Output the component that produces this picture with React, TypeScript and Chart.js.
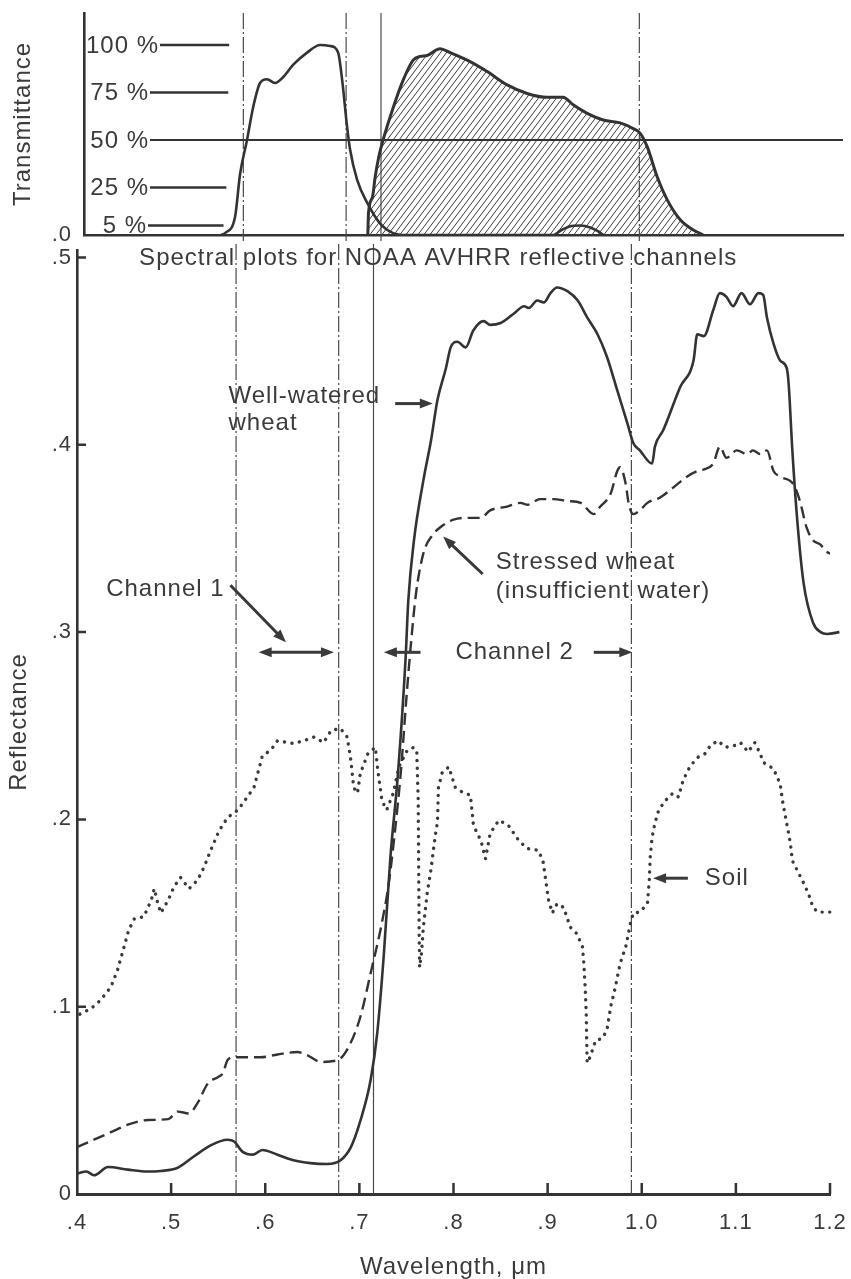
import React, { useEffect, useRef } from "react";
import { Chart, registerables } from "chart.js";

Chart.register(...registerables);

const FONT_FAMILY = '"Liberation Sans", Arial, Helvetica, sans-serif';
const INK = "#333333";
const TEXT_COLOR = "#3b3b3b";

// ---------------- Transmittance panel (top) ----------------
const ch1Wavelength = [0.5454, 0.5496, 0.5602, 0.5655, 0.5729, 0.5793, 0.5867, 0.5941, 0.6026, 0.6111, 0.6217, 0.6366, 0.6504, 0.661, 0.6695, 0.6737, 0.679, 0.6822, 0.6897, 0.7003, 0.7141, 0.7279, 0.7406, 0.898, 0.906, 0.915, 0.926, 0.937, 0.945, 0.951];
const ch1Transmittance = [0, 1, 9.5, 32, 50, 67, 80, 82, 80, 83, 89.5, 96, 100, 99.5, 96, 82, 57, 45, 29, 17, 6, 1, 0, 0, 2.5, 4.5, 5, 4, 2, 0];

const ch2Wavelength = [0.701, 0.7018, 0.706, 0.7088, 0.713, 0.7172, 0.7279, 0.7385, 0.7491, 0.7565, 0.7639, 0.7777, 0.7883, 0.8064, 0.8276, 0.8488, 0.87, 0.8912, 0.9082, 0.9188, 0.9337, 0.9507, 0.9687, 0.9825, 0.9899, 0.9973, 1.008, 1.0186, 1.0324, 1.0462, 1.0568];
const ch2Transmittance = [0, 12, 20, 30.5, 42, 50, 67, 81.5, 92, 94, 94.5, 98, 96, 92, 86, 79, 74.5, 72.5, 72.5, 68.5, 64, 60.5, 59, 56, 53.5, 46.5, 30.5, 18.5, 8, 2.6, 0];

const transLevels = [100, 75, 50, 25, 5];
const transLevelLabels = ["100 %", "75 %", "50 %", "25 %", "5 %"];
const transLineStart = [0.4806, 0.47, 0.47, 0.47, 0.4679];
const transLineEnd = [0.554, 0.553, 1.205, 0.551, 0.548];
const topTickValues = [0];
const topTickLabels = [".0"];
const topWavelengthMin = 0.4;
const topWavelengthMax = 1.205;
const topTransMax = 116.84;

// ---------------- Reflectance panel (bottom) ----------------
const wellWavelength = [0.4, 0.41, 0.418, 0.433, 0.454, 0.475, 0.489, 0.507, 0.524, 0.542, 0.56, 0.567, 0.576, 0.587, 0.597, 0.613, 0.63, 0.648, 0.666, 0.68, 0.691, 0.701, 0.712, 0.719, 0.726, 0.733, 0.741, 0.749, 0.752, 0.758, 0.768, 0.776, 0.783, 0.792, 0.797, 0.804, 0.813, 0.821, 0.832, 0.839, 0.85, 0.864, 0.875, 0.88, 0.889, 0.896, 0.903, 0.91, 0.921, 0.932, 0.942, 0.953, 0.963, 0.974, 0.985, 0.991, 0.998, 1.011, 1.014, 1.023, 1.041, 1.055, 1.059, 1.066, 1.076, 1.083, 1.09, 1.097, 1.106, 1.115, 1.124, 1.129, 1.133, 1.14, 1.147, 1.154, 1.156, 1.16, 1.165, 1.172, 1.182, 1.19, 1.197, 1.21];
const wellReflectance = [0.011, 0.012, 0.01, 0.0144, 0.013, 0.012, 0.0123, 0.014, 0.02, 0.026, 0.029, 0.028, 0.0225, 0.021, 0.0235, 0.021, 0.018, 0.0165, 0.016, 0.018, 0.025, 0.039, 0.061, 0.086, 0.128, 0.18, 0.2245, 0.285, 0.317, 0.349, 0.381, 0.402, 0.424, 0.441, 0.452, 0.455, 0.452, 0.461, 0.466, 0.464, 0.465, 0.47, 0.474, 0.473, 0.477, 0.476, 0.481, 0.484, 0.482, 0.477, 0.468, 0.459, 0.447, 0.429, 0.411, 0.401, 0.397, 0.39, 0.399, 0.408, 0.431, 0.445, 0.459, 0.458, 0.472, 0.481, 0.479, 0.474, 0.481, 0.475, 0.481, 0.48, 0.468, 0.454, 0.445, 0.441, 0.433, 0.397, 0.361, 0.326, 0.305, 0.3, 0.299, 0.3];

const stressedWavelength = [0.4, 0.418, 0.436, 0.454, 0.475, 0.497, 0.507, 0.519, 0.528, 0.539, 0.55, 0.555, 0.56, 0.567, 0.595, 0.613, 0.634, 0.645, 0.659, 0.677, 0.688, 0.701, 0.712, 0.723, 0.731, 0.737, 0.744, 0.75, 0.755, 0.76, 0.768, 0.778, 0.786, 0.8, 0.815, 0.829, 0.839, 0.857, 0.871, 0.879, 0.892, 0.906, 0.921, 0.935, 0.949, 0.956, 0.967, 0.974, 0.977, 0.983, 0.986, 0.991, 0.998, 1.006, 1.02, 1.033, 1.048, 1.059, 1.067, 1.076, 1.083, 1.09, 1.101, 1.112, 1.118, 1.126, 1.133, 1.14, 1.147, 1.161, 1.168, 1.175, 1.182, 1.189, 1.2, 1.21];
const stressedReflectance = [0.025, 0.029, 0.033, 0.037, 0.0395, 0.04, 0.044, 0.043, 0.0485, 0.059, 0.0625, 0.0645, 0.0715, 0.073, 0.073, 0.0745, 0.0758, 0.074, 0.0705, 0.0715, 0.078, 0.0945, 0.118, 0.1425, 0.165, 0.19, 0.225, 0.265, 0.295, 0.32, 0.342, 0.352, 0.356, 0.36, 0.361, 0.361, 0.365, 0.367, 0.369, 0.368, 0.371, 0.371, 0.37, 0.369, 0.363, 0.367, 0.374, 0.386, 0.388, 0.379, 0.369, 0.363, 0.365, 0.369, 0.372, 0.377, 0.383, 0.386, 0.387, 0.39, 0.399, 0.393, 0.397, 0.395, 0.397, 0.395, 0.397, 0.386, 0.383, 0.379, 0.37, 0.356, 0.349, 0.347, 0.342, 0.347];

const soilWavelength = [0.403, 0.415, 0.425, 0.436, 0.443, 0.45, 0.455, 0.461, 0.471, 0.479, 0.482, 0.486, 0.489, 0.497, 0.503, 0.51, 0.519, 0.528, 0.535, 0.542, 0.551, 0.56, 0.571, 0.581, 0.588, 0.592, 0.597, 0.606, 0.613, 0.624, 0.63, 0.641, 0.652, 0.662, 0.67, 0.68, 0.687, 0.691, 0.694, 0.698, 0.701, 0.709, 0.717, 0.72, 0.724, 0.729, 0.736, 0.742, 0.751, 0.758, 0.761, 0.7625, 0.763, 0.7635, 0.764, 0.766, 0.768, 0.772, 0.776, 0.779, 0.781, 0.783, 0.784, 0.788, 0.795, 0.802, 0.811, 0.818, 0.821, 0.825, 0.829, 0.834, 0.839, 0.848, 0.858, 0.869, 0.878, 0.89, 0.895, 0.898, 0.901, 0.905, 0.91, 0.917, 0.924, 0.931, 0.937, 0.9385, 0.94, 0.941, 0.9415, 0.942, 0.945, 0.951, 0.958, 0.963, 0.967, 0.972, 0.977, 0.983, 0.988, 0.991, 0.998, 1.006, 1.008, 1.009, 1.011, 1.014, 1.018, 1.025, 1.033, 1.039, 1.044, 1.051, 1.059, 1.067, 1.073, 1.081, 1.089, 1.099, 1.105, 1.113, 1.12, 1.126, 1.129, 1.14, 1.147, 1.15, 1.154, 1.158, 1.16, 1.165, 1.172, 1.177, 1.182, 1.187, 1.203];
const soilReflectance = [0.096, 0.099, 0.1035, 0.1105, 0.1195, 0.132, 0.141, 0.147, 0.148, 0.157, 0.163, 0.155, 0.15, 0.157, 0.164, 0.169, 0.163, 0.1675, 0.1745, 0.1835, 0.194, 0.201, 0.205, 0.212, 0.217, 0.2245, 0.234, 0.237, 0.242, 0.241, 0.2405, 0.242, 0.244, 0.241, 0.2475, 0.2485, 0.244, 0.2315, 0.217, 0.214, 0.2245, 0.235, 0.2385, 0.2245, 0.21, 0.205, 0.214, 0.228, 0.237, 0.2385, 0.236, 0.21, 0.175, 0.14, 0.121, 0.1285, 0.1425, 0.1605, 0.173, 0.185, 0.1925, 0.1985, 0.217, 0.225, 0.228, 0.217, 0.214, 0.213, 0.198, 0.1925, 0.189, 0.179, 0.1925, 0.1995, 0.197, 0.189, 0.1845, 0.1835, 0.178, 0.1675, 0.157, 0.15, 0.155, 0.153, 0.1425, 0.139, 0.132, 0.123, 0.109, 0.0966, 0.082, 0.07, 0.073, 0.082, 0.083, 0.0875, 0.1, 0.1105, 0.123, 0.132, 0.1445, 0.15, 0.1505, 0.155, 0.1675, 0.18, 0.1905, 0.198, 0.205, 0.21, 0.214, 0.212, 0.221, 0.228, 0.233, 0.235, 0.2395, 0.242, 0.2385, 0.2395, 0.241, 0.236, 0.241, 0.235, 0.2305, 0.227, 0.219, 0.2085, 0.198, 0.187, 0.178, 0.173, 0.166, 0.1605, 0.153, 0.1505, 0.1505];

const xTickValues = [0.4, 0.5, 0.6, 0.7, 0.8, 0.9, 1.0, 1.1, 1.2];
const xTickLabels = [".4", ".5", ".6", ".7", ".8", ".9", "1.0", "1.1", "1.2"];
const yTickValues = [0, 0.1, 0.2, 0.3, 0.4, 0.5];
const yTickLabels = ["0", ".1", ".2", ".3", ".4", ".5"];
const wavelengthMin = 0.4;
const wavelengthMax = 1.2;
const reflectanceMin = 0;
const reflectanceMax = 0.504;

const channelEdges = [0.569, 0.678, 0.715, 0.989];

const chartTitle = "Spectral plots for NOAA AVHRR reflective channels";
const chartTitleAt = [0.466, 0.4995];
const xAxisTitle = "Wavelength, \u03bcm";
const yAxisTitle = "Reflectance";
const topAxisTitle = "Transmittance";

const noteTexts = ["Well-watered", "wheat", "Channel 1", "Channel 2", "Stressed wheat", "(insufficient water)", "Soil"];
const noteWavelength = [0.561, 0.561, 0.431, 0.802, 0.845, 0.845, 1.067];
const noteReflectance = [0.4258, 0.4114, 0.323, 0.2892, 0.337, 0.322, 0.1686];

const arrowFromWavelength = [0.738, 0.563, 0.593, 0.765, 0.949, 0.831, 1.049];
const arrowFromReflectance = [0.422, 0.325, 0.2892, 0.2892, 0.2892, 0.331, 0.1686];
const arrowToWavelength = [0.778, 0.622, 0.673, 0.726, 0.99, 0.789, 1.012];
const arrowToReflectance = [0.422, 0.2946, 0.2892, 0.2892, 0.2892, 0.351, 0.1686];
const arrowDoubleHeaded = [false, false, true, false, false, false, false];

// styles (kept apart from data)
const edgeDashed = [true, true, false, true];

type XY = { x: number; y: number };
const pairs = (xs: number[], ys: number[]): XY[] => xs.map((x, i) => ({ x, y: ys[i] }));

const labelFor = (values: number[], labels: string[]) => (v: any) => {
  const i = values.findIndex((t) => Math.abs(t - Number(v)) < 1e-9);
  return i >= 0 ? labels[i] : "";
};

const zeroPadding = (s: any) => {
  s.paddingLeft = 0;
  s.paddingRight = 0;
  s.paddingTop = 0;
  s.paddingBottom = 0;
};

function drawArrow(ctx: CanvasRenderingContext2D, x1: number, y1: number, x2: number, y2: number, both: boolean) {
  const a = Math.atan2(y2 - y1, x2 - x1);
  const head = 13;
  const half = 5;
  const c = Math.cos(a);
  const s = Math.sin(a);
  const sx = both ? x1 + c * head * 0.7 : x1;
  const sy = both ? y1 + s * head * 0.7 : y1;
  const ex = x2 - c * head * 0.7;
  const ey = y2 - s * head * 0.7;
  ctx.beginPath();
  ctx.moveTo(sx, sy);
  ctx.lineTo(ex, ey);
  ctx.lineWidth = 3;
  ctx.stroke();
  const tip = (tx: number, ty: number, cc: number, ss: number) => {
    ctx.beginPath();
    ctx.moveTo(tx, ty);
    ctx.lineTo(tx - cc * head - ss * half, ty - ss * head + cc * half);
    ctx.lineTo(tx - cc * head + ss * half, ty - ss * head - cc * half);
    ctx.closePath();
    ctx.fill();
  };
  tip(x2, y2, c, s);
  if (both) tip(x1, y1, -c, -s);
}

function drawEdges(chart: any, top: number, bottom: number) {
  const { ctx, scales } = chart;
  ctx.save();
  ctx.strokeStyle = "#4a4a4a";
  ctx.lineWidth = 1.2;
  channelEdges.forEach((w, i) => {
    const px = scales.x.getPixelForValue(w);
    ctx.setLineDash(edgeDashed[i] ? [16, 3, 2, 3] : []);
    ctx.beginPath();
    ctx.moveTo(px, top);
    ctx.lineTo(px, bottom);
    ctx.stroke();
  });
  ctx.restore();
}

function makeHatch(): CanvasPattern | string {
  const w = 6;
  const h = 8;
  const c = document.createElement("canvas");
  c.width = w;
  c.height = h;
  const g = c.getContext("2d");
  if (!g) return "rgba(0,0,0,0.2)";
  g.strokeStyle = "#3c3c3c";
  g.lineWidth = 1;
  g.beginPath();
  for (const off of [-w, 0, w]) {
    g.moveTo(off - w, 2 * h);
    g.lineTo(off + 2 * w, -h);
  }
  g.stroke();
  return g.createPattern(c, "repeat") || "rgba(0,0,0,0.2)";
}

const spacingPlugin = {
  id: "spacing",
  beforeDraw(chart: any) {
    try {
      (chart.ctx as any).letterSpacing = "1px";
    } catch (e) {
      /* ignore */
    }
  },
};

export default function App() {
  const topRef = useRef<HTMLCanvasElement | null>(null);
  const bottomRef = useRef<HTMLCanvasElement | null>(null);

  useEffect(() => {
    if (!topRef.current || !bottomRef.current) return;

    const bottomDecor = {
      id: "bottomDecor",
      beforeDatasetsDraw(chart: any) {
        drawEdges(chart, chart.chartArea.top - 6, chart.chartArea.bottom);
      },
      afterDraw(chart: any) {
        const { ctx, chartArea, scales } = chart;
        const x = scales.x;
        const y = scales.y;
        ctx.save();
        ctx.setLineDash([]);
        ctx.strokeStyle = INK;
        ctx.fillStyle = INK;
        ctx.lineWidth = 2.5;
        ctx.beginPath();
        xTickValues.forEach((v) => {
          if (v <= wavelengthMin + 1e-9) return;
          const px = x.getPixelForValue(v);
          ctx.moveTo(px, chartArea.bottom);
          ctx.lineTo(px, chartArea.bottom - 11);
        });
        yTickValues.forEach((v) => {
          if (v <= reflectanceMin + 1e-9) return;
          const py = y.getPixelForValue(v);
          ctx.moveTo(chartArea.left, py);
          ctx.lineTo(chartArea.left + 9, py);
        });
        ctx.stroke();

        ctx.strokeStyle = "#3a3a3a";
        ctx.fillStyle = "#3a3a3a";
        arrowFromWavelength.forEach((w, i) => {
          drawArrow(
            ctx,
            x.getPixelForValue(w),
            y.getPixelForValue(arrowFromReflectance[i]),
            x.getPixelForValue(arrowToWavelength[i]),
            y.getPixelForValue(arrowToReflectance[i]),
            arrowDoubleHeaded[i]
          );
        });

        ctx.fillStyle = TEXT_COLOR;
        ctx.font = `24px ${FONT_FAMILY}`;
        ctx.textAlign = "left";
        ctx.textBaseline = "middle";
        noteTexts.forEach((t, i) => {
          ctx.fillText(t, x.getPixelForValue(noteWavelength[i]), y.getPixelForValue(noteReflectance[i]));
        });
        ctx.fillText(chartTitle, x.getPixelForValue(chartTitleAt[0]), y.getPixelForValue(chartTitleAt[1]));
        ctx.restore();
      },
    };

    const topDecor = {
      id: "topDecor",
      beforeDatasetsDraw(chart: any) {
        drawEdges(chart, chart.chartArea.top, chart.chartArea.bottom + 6);
      },
      afterDraw(chart: any) {
        const { ctx, scales } = chart;
        const x = scales.x;
        const y = scales.y;
        ctx.save();
        ctx.setLineDash([]);
        ctx.strokeStyle = INK;
        ctx.fillStyle = TEXT_COLOR;
        ctx.font = `24px ${FONT_FAMILY}`;
        ctx.textAlign = "right";
        ctx.textBaseline = "middle";
        transLevels.forEach((lv, i) => {
          const py = y.getPixelForValue(lv);
          const x0 = x.getPixelForValue(transLineStart[i]);
          const x1 = x.getPixelForValue(transLineEnd[i]);
          ctx.fillText(transLevelLabels[i], x0 - 1, py + 1);
          ctx.beginPath();
          ctx.lineWidth = lv === 50 ? 2 : 2.4;
          ctx.moveTo(x0, py);
          ctx.lineTo(x1, py);
          ctx.stroke();
        });
        ctx.restore();
      },
    };

    const tickFont = { family: FONT_FAMILY, size: 22, lineHeight: 1 };
    const titleFont = { family: FONT_FAMILY, size: 24, lineHeight: 1 };

    const bottomChart = new Chart(bottomRef.current, {
      type: "line",
      data: {
        datasets: [
          {
            label: "Well-watered wheat",
            data: pairs(wellWavelength, wellReflectance),
            borderColor: INK,
            borderWidth: 2.6,
            pointRadius: 0,
            cubicInterpolationMode: "monotone",
            fill: false,
            clip: false,
          },
          {
            label: "Stressed wheat (insufficient water)",
            data: pairs(stressedWavelength, stressedReflectance),
            borderColor: INK,
            borderWidth: 2.4,
            borderDash: [12, 6],
            pointRadius: 0,
            cubicInterpolationMode: "monotone",
            fill: false,
            clip: false,
          },
          {
            label: "Soil",
            data: pairs(soilWavelength, soilReflectance),
            borderColor: "#3a3a3a",
            borderWidth: 3.4,
            borderDash: [0.1, 7.5],
            borderCapStyle: "round",
            pointRadius: 0,
            tension: 0,
            fill: false,
            clip: false,
          },
        ],
      } as any,
      options: {
        responsive: false,
        maintainAspectRatio: false,
        animation: false,
        events: [],
        layout: { padding: { left: 0, right: 21, top: 250, bottom: 0 } },
        scales: {
          x: {
            type: "linear",
            min: wavelengthMin,
            max: wavelengthMax,
            afterBuildTicks: (s: any) => {
              s.ticks = xTickValues.map((v) => ({ value: v }));
            },
            afterFit: (s: any) => {
              s.height = 85;
              zeroPadding(s);
            },
            grid: { display: false, drawTicks: false },
            border: { display: true, color: INK, width: 3 },
            ticks: {
              autoSkip: false,
              maxRotation: 0,
              padding: 18,
              color: TEXT_COLOR,
              font: tickFont,
              callback: labelFor(xTickValues, xTickLabels),
            },
            title: { display: true, text: xAxisTitle, color: TEXT_COLOR, font: titleFont, padding: 0 },
          },
          y: {
            type: "linear",
            min: reflectanceMin,
            max: reflectanceMax,
            afterBuildTicks: (s: any) => {
              s.ticks = yTickValues.map((v) => ({ value: v }));
            },
            afterFit: (s: any) => {
              s.width = 77;
              zeroPadding(s);
            },
            grid: { display: false, drawTicks: false },
            border: { display: true, color: INK, width: 2.6 },
            ticks: {
              padding: 5,
              color: TEXT_COLOR,
              font: tickFont,
              callback: labelFor(yTickValues, yTickLabels),
            },
            title: {
              display: true,
              text: yAxisTitle,
              color: TEXT_COLOR,
              font: titleFont,
              padding: { top: 7.5, bottom: 0 },
            },
          },
        },
        plugins: {
          legend: { display: false },
          tooltip: { enabled: false },
          title: { display: false },
        },
      } as any,
      plugins: [spacingPlugin, bottomDecor],
    });

    const topChart = new Chart(topRef.current, {
      type: "line",
      data: {
        datasets: [
          {
            label: "Channel 1",
            data: pairs(ch1Wavelength, ch1Transmittance),
            borderColor: INK,
            borderWidth: 2.6,
            pointRadius: 0,
            cubicInterpolationMode: "monotone",
            fill: false,
          },
          {
            label: "Channel 2",
            data: pairs(ch2Wavelength, ch2Transmittance),
            borderColor: INK,
            borderWidth: 3,
            pointRadius: 0,
            cubicInterpolationMode: "monotone",
            fill: "origin",
            backgroundColor: makeHatch(),
          },
        ],
      } as any,
      options: {
        responsive: false,
        maintainAspectRatio: false,
        animation: false,
        events: [],
        layout: { padding: { left: 0, right: 8, top: 13, bottom: 15 } },
        scales: {
          x: {
            type: "linear",
            min: topWavelengthMin,
            max: topWavelengthMax,
            afterFit: (s: any) => {
              s.height = 0;
              zeroPadding(s);
            },
            grid: { display: false, drawTicks: false },
            border: { display: true, color: INK, width: 2.6 },
            ticks: { display: false },
          },
          y: {
            type: "linear",
            min: 0,
            max: topTransMax,
            afterBuildTicks: (s: any) => {
              s.ticks = topTickValues.map((v) => ({ value: v }));
            },
            afterFit: (s: any) => {
              s.width = 84;
              zeroPadding(s);
            },
            grid: { display: false, drawTicks: false },
            border: { display: true, color: INK, width: 2.6 },
            ticks: {
              padding: 12,
              color: TEXT_COLOR,
              font: tickFont,
              callback: labelFor(topTickValues, topTickLabels),
            },
            title: {
              display: true,
              text: topAxisTitle,
              color: TEXT_COLOR,
              font: titleFont,
              padding: { top: 11.5, bottom: 0 },
            },
          },
        },
        plugins: {
          legend: { display: false },
          tooltip: { enabled: false },
          title: { display: false },
        },
      } as any,
      plugins: [spacingPlugin, topDecor],
    });

    return () => {
      topChart.destroy();
      bottomChart.destroy();
    };
  }, []);

  return (
    <div style={{ position: "absolute", left: 0, top: 0, width: 851, height: 1279, background: "#ffffff" }}>
      <canvas
        ref={bottomRef}
        width={851}
        height={1279}
        style={{ position: "absolute", left: 0, top: 0, width: 851, height: 1279 }}
      />
      <canvas
        ref={topRef}
        width={851}
        height={250}
        style={{ position: "absolute", left: 0, top: 0, width: 851, height: 250 }}
      />
    </div>
  );
}
